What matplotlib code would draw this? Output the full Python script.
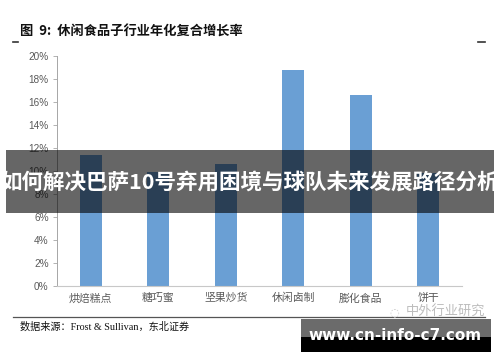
import matplotlib
matplotlib.use("Agg")
import matplotlib.pyplot as plt
from matplotlib.patches import Rectangle
from matplotlib.lines import Line2D
from matplotlib.ticker import FuncFormatter, MultipleLocator

categories = ["烘焙糕点", "糖巧蜜", "坚果炒货", "休闲卤制", "膨化食品", "饼干"]
growth = [0.114, 0.099, 0.106, 0.188, 0.166, 0.098]

title_text = "图  9:  休闲食品子行业年化复合增长率"
source_text = "数据来源：Frost & Sullivan，东北证券"
banner_text = "如何解决巴萨10号弃用困境与球队未来发展路径分析"
site_text = "www.cn-info-c7.com"
wm_text = "中外行业研究"

cjk = ["Noto Sans CJK SC", "DejaVu Sans"]
plt.rcParams["font.family"] = cjk

fig = plt.figure(figsize=(5, 3.62), dpi=100)
W, H = 500, 362
def fx(x): return x / W
def fy(y): return 1 - y / H

ax = fig.add_axes([fx(57), fy(286), fx(462) - fx(57), fy(56) - fy(286)])
x = range(len(categories))
ax.bar(x, growth, width=0.32, color="#6a9fd4", zorder=2)
ax.set_xlim(-0.5, len(categories) - 0.5)
ax.set_ylim(0, 0.20)
ax.yaxis.set_major_locator(MultipleLocator(0.02))
ax.yaxis.set_major_formatter(FuncFormatter(lambda v, p: f"{v*100:.0f}%"))
ax.set_xticks(list(x))
ax.set_xticklabels(categories, fontsize=7.8, color="#595959")
ax.tick_params(axis="x", length=0, pad=5)
ax.tick_params(axis="y", length=3, width=0.6, color="#a6a6a6", labelsize=7.2,
               labelcolor="#595959", pad=3)
for lab in ax.get_yticklabels():
    lab.set_family(["Liberation Sans", "DejaVu Sans"])
for s in ["top", "right"]:
    ax.spines[s].set_visible(False)
ax.spines["left"].set_color("#a6a6a6")
ax.spines["bottom"].set_color("#c8c8c8")
ax.spines["left"].set_linewidth(0.7)
ax.spines["bottom"].set_linewidth(0.8)

# title
fig.text(fx(20), fy(32), title_text, fontsize=9.5, fontweight="bold", color="#111111",
         ha="left", va="center")
fig.add_artist(Line2D([fx(13), fx(18)], [fy(42), fy(42)], color="#333333", lw=1.2))
fig.add_artist(Line2D([fx(478), fx(485)], [fy(42), fy(42)], color="#333333", lw=1.2))

# bottom rule and source
fig.add_artist(Line2D([fx(13), fx(485)], [fy(317), fy(317)], color="#555555", lw=0.9))
fig.text(fx(20), fy(327), source_text, fontsize=7.3, color="#111111",
         family=["Liberation Serif", "Noto Sans CJK SC"], ha="left", va="center")

# watermark
fig.text(fx(485), fy(312), wm_text, fontsize=9.5, color="#bdbdbd", ha="right", va="center",
         zorder=6)
fig.text(fx(394), fy(312), "◌", fontsize=8, color="#c8c8c8", ha="center", va="center",
         family=["DejaVu Sans"], zorder=6)

# banner overlay
fig.add_artist(Rectangle((fx(6), fy(213)), fx(494) - fx(6), fy(150) - fy(213),
                         transform=fig.transFigure, facecolor="black", alpha=0.6,
                         edgecolor="none", zorder=10))
fig.text(0.5, fy(182), banner_text, fontsize=15.5, fontweight="bold", color="white",
         ha="center", va="center", zorder=11)

# site box
fig.add_artist(Rectangle((fx(301), fy(337)), fx(491) - fx(301), fy(319) - fy(337),
                         transform=fig.transFigure, facecolor="#6b6b6b",
                         edgecolor="none", zorder=10))
fig.add_artist(Rectangle((fx(301), fy(352)), fx(491) - fx(301), fy(337) - fy(352),
                         transform=fig.transFigure, facecolor="black",
                         edgecolor="none", zorder=10))
fig.text(fx(395), fy(336), site_text, fontsize=11, fontweight="bold", color="white",
         family=["DejaVu Sans"], ha="center", va="center", zorder=11)

fig.savefig("out.png", dpi=100)
